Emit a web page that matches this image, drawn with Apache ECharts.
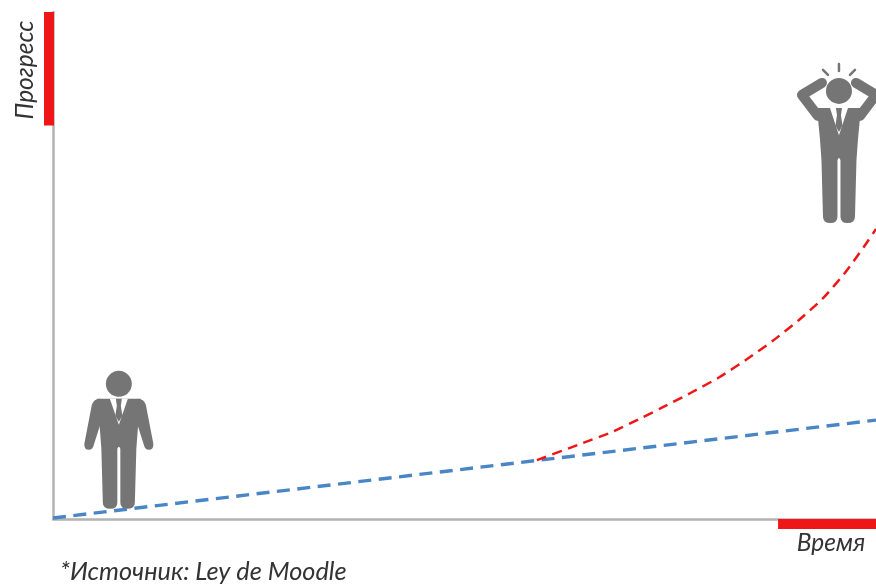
<!DOCTYPE html>
<html>
<head>
<meta charset="utf-8">
<style>html,body{margin:0;padding:0;background:#fff}#c{width:876px;height:584px}</style>
<script src="https://cdn.jsdelivr.net/npm/echarts@6/dist/echarts.min.js"></script>
</head>
<body>
<div id="c"></div>
<script>
// Progress over time: steady linear path against the accelerating one.
const linearPath = [[0, 0.2], [100, 19.5]];
const acceleratedPath = [[58.8, 11.6], [64.4, 15], [68, 17.2], [71.7, 20.1], [73.8, 21.8], [77.4, 24.8], [80.9, 27.9], [84.3, 31.5], [87.5, 35.2], [90.6, 39.2], [93.6, 43.6], [96.2, 48.5], [98.5, 53.6], [100, 57.2]];
const yAxisAccent = [[0, 77.6], [0, 100]];
const xAxisAccent = [[88.1, 0], [100, 0]];
const calmPerson = [[8, 2]];
const worriedPerson = [[95.5, 58.4]];
const yTitle = 'Прогресс';
const xTitle = 'Время';
const sourceNote = '*Источник: Ley de Moodle';

const GREY = '#757575';
const RED = '#ee1616';
const BLUE = '#4a86c5';
const TEXT_FONT = 'italic 24.5px Lato';

// Silhouette shared by both figures; coordinates are relative to the feet.
const BODY_PATH = 'M-22,-110 L22,-110 L19,-80 L17.5,-60 L16,-6 Q16,0 8.5,0 Q1.5,0 1.5,-6 L1.5,-60 Q0,-64 -1.5,-60 L-1.5,-6 Q-1.5,0 -8.5,0 Q-16,0 -16,-6 L-17.5,-60 L-19,-80 Z';
const SHIRT_PATH = 'M-9,-110 L9,-110 L0,-84 Z';
const TIE_PATH = 'M-3,-110 L3,-110 L2,-103 L3.5,-93 L0,-87 L-3.5,-93 L-2,-103 Z';
const LEFT_ARM = 'M-19,-110 Q-25,-110 -27,-104 L-34.5,-65 Q-35,-59 -30,-59 Q-26,-59 -25,-64 L-18,-86 Z';
const RIGHT_ARM = 'M19,-110 Q25,-110 27,-104 L34.5,-65 Q35,-59 30,-59 Q26,-59 25,-64 L18,-86 Z';

function solid(pathData, fill) {
  return { type: 'path', shape: { pathData }, style: { fill: fill || GREY } };
}
function placedAt(api, children) {
  const p = api.coord([api.value(0), api.value(1)]);
  return { type: 'group', x: p[0], y: p[1], silent: true, children };
}

const option = {
  animation: false,
  backgroundColor: '#fff',
  grid: { left: 53, right: 0, top: 12, bottom: 65 },
  xAxis: {
    type: 'value', min: 0, max: 100,
    axisLine: { show: true, onZero: false, lineStyle: { color: '#b3b3b3', width: 2.5 } },
    axisTick: { show: false }, axisLabel: { show: false }, splitLine: { show: false }
  },
  yAxis: {
    type: 'value', min: 0, max: 100,
    axisLine: { show: true, onZero: false, lineStyle: { color: '#b3b3b3', width: 2.5 } },
    axisTick: { show: false }, axisLabel: { show: false }, splitLine: { show: false }
  },
  graphic: [
    { type: 'text', x: 25, y: 70, rotation: Math.PI / 2, style: { text: yTitle, font: TEXT_FONT, fill: '#333', align: 'center', verticalAlign: 'middle' } },
    { type: 'text', x: 831, y: 543, style: { text: xTitle, font: TEXT_FONT, fill: '#333', align: 'center', verticalAlign: 'middle' } },
    { type: 'text', x: 60, y: 572, style: { text: sourceNote, font: 'italic 25.3px Lato', fill: '#333', align: 'left', verticalAlign: 'middle' } }
  ],
  series: [
    {
      type: 'line', data: linearPath, showSymbol: false, clip: false,
      lineStyle: { color: BLUE, width: 3.4, type: [13, 7.5] }, z: 3
    },
    {
      type: 'line', data: acceleratedPath, smooth: 0.2, showSymbol: false, clip: false,
      lineStyle: { color: RED, width: 2.5, type: [10, 6.5] }, z: 4
    },
    {
      // Red accent at the top of the vertical axis
      type: 'custom', clip: false, coordinateSystem: 'cartesian2d', data: yAxisAccent, z: 5,
      encode: { x: 0, y: 1 },
      renderItem(params, api) {
        if (params.dataIndex !== 0) return null;
        const a = api.coord(yAxisAccent[0]), b = api.coord(yAxisAccent[1]);
        return { type: 'rect', shape: { x: a[0] - 9, y: b[1], width: 10, height: a[1] - b[1] }, style: { fill: RED } };
      }
    },
    {
      // Red accent at the end of the horizontal axis
      type: 'custom', clip: false, coordinateSystem: 'cartesian2d', data: xAxisAccent, z: 5,
      encode: { x: 0, y: 1 },
      renderItem(params, api) {
        if (params.dataIndex !== 0) return null;
        const a = api.coord(xAxisAccent[0]), b = api.coord(xAxisAccent[1]);
        return { type: 'rect', shape: { x: a[0], y: a[1], width: b[0] - a[0], height: 10 }, style: { fill: RED } };
      }
    },
    {
      // Calm figure at the start of the path
      type: 'custom', clip: false, coordinateSystem: 'cartesian2d', data: calmPerson, z: 2,
      encode: { x: 0, y: 1 },
      renderItem(params, api) {
        return placedAt(api, [
          solid(BODY_PATH), solid(LEFT_ARM), solid(RIGHT_ARM),
          { type: 'circle', shape: { cx: 0, cy: -125, r: 13 }, style: { fill: GREY } },
          solid(SHIRT_PATH, '#fff'), solid(TIE_PATH)
        ]);
      }
    },
    {
      // Worried figure, hands on the head
      type: 'custom', clip: false, coordinateSystem: 'cartesian2d', data: worriedPerson, z: 2,
      encode: { x: 0, y: 1 },
      renderItem(params, api) {
        const arm = side => ({
          type: 'polyline',
          shape: { points: [[side * 21, -107], [side * 37, -128], [side * 17, -140]] },
          style: { stroke: GREY, lineWidth: 10, fill: null, lineCap: 'round', lineJoin: 'round' }
        });
        const ray = (x1, y1, x2, y2) => ({
          type: 'line', shape: { x1, y1, x2, y2 },
          style: { stroke: GREY, lineWidth: 2.5, lineCap: 'round' }
        });
        return placedAt(api, [
          arm(-1), arm(1),
          { type: 'group', scaleY: 1.045, children: [solid(BODY_PATH), solid(SHIRT_PATH, '#fff'), solid(TIE_PATH)] },
          { type: 'circle', shape: { cx: 0, cy: -132, r: 13 }, style: { fill: GREY } },
          ray(0, -159, 0, -152), ray(-16, -153, -11, -148), ray(16, -153, 11, -148)
        ]);
      }
    }
  ]
};

echarts.init(document.getElementById('c'), null, { renderer: 'canvas' }).setOption(option);
</script>
</body>
</html>
